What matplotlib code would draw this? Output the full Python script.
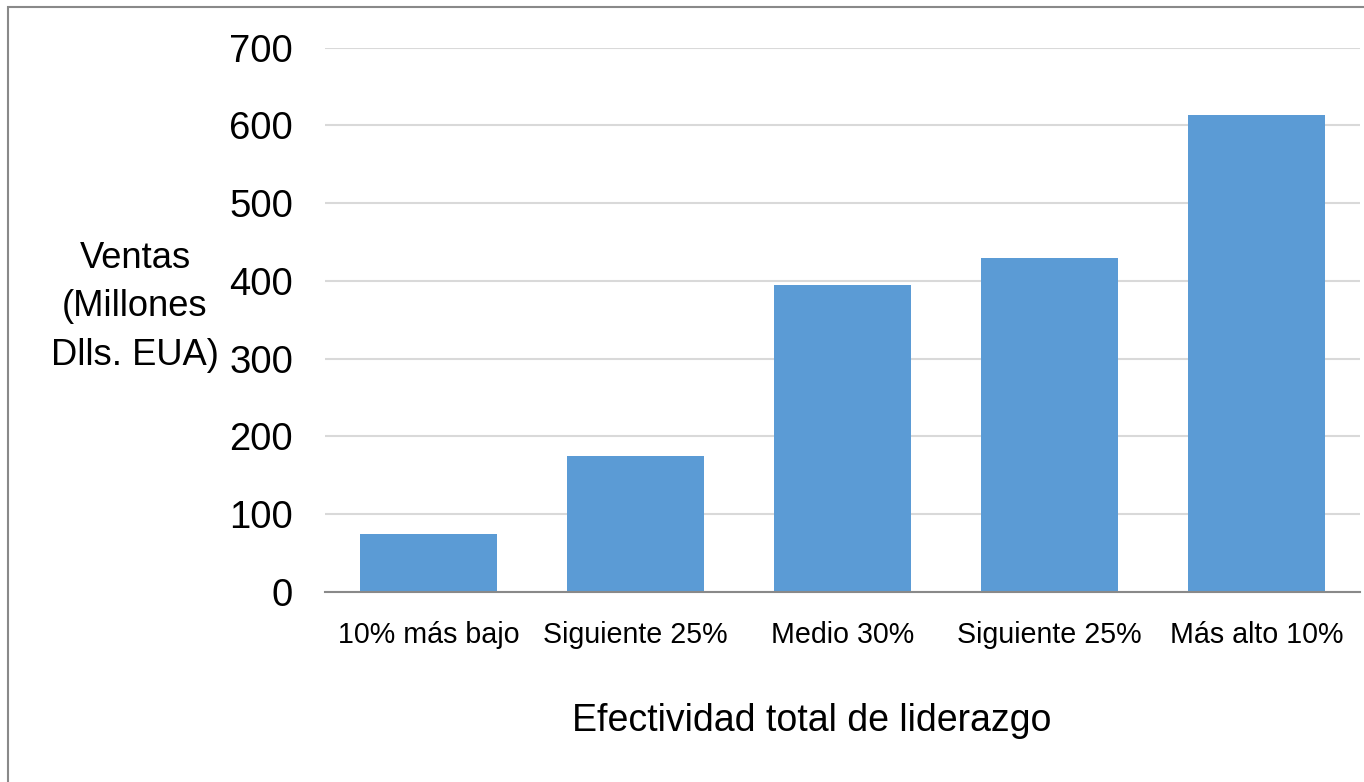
import matplotlib
matplotlib.use("Agg")
import matplotlib.pyplot as plt
from matplotlib.patches import Rectangle

categories = ["10% más bajo", "Siguiente 25%", "Medio 30%", "Siguiente 25%", "Más alto 10%"]
ventas = [75, 175, 395, 429, 614]
yticks = [0, 100, 200, 300, 400, 500, 600, 700]

plt.rcParams['font.family'] = ['Liberation Sans', 'DejaVu Sans']

W, H = 1364, 782
fig = plt.figure(figsize=(W / 100, H / 100), dpi=100)
ax = fig.add_axes([325 / W, 190 / H, (1360 - 325) / W, (592 - 47.7) / H])

x = list(range(len(categories)))
ax.bar(x, ventas, width=0.66, color='#5B9BD5', zorder=3)
ax.set_xlim(-0.5, len(categories) - 0.5)
ax.set_ylim(0, 700)
ax.set_yticks(yticks)
ax.set_yticklabels([str(v) for v in yticks], fontsize=27.5)
ax.set_xticks(x)
ax.set_xticklabels(categories, fontsize=20.6)
ax.tick_params(axis='y', length=0, pad=23)
ax.tick_params(axis='x', length=0, pad=21)
ax.yaxis.grid(True, color='#D9D9D9', linewidth=1.5, zorder=0)
ax.set_axisbelow(True)
for s in ['top', 'right', 'left']:
    ax.spines[s].set_visible(False)
ax.spines['bottom'].set_color('#898989')
ax.spines['bottom'].set_linewidth(1.5)
ax.spines['bottom'].set_zorder(4)

fig.text(135 / W, 1 - 306.5 / H, "Ventas\n(Millones\nDlls. EUA)", fontsize=26.2,
         ha='center', va='center', multialignment='center', linespacing=1.5)
fig.text(812 / W, 1 - 721 / H, "Efectividad total de liderazgo", fontsize=27,
         ha='center', va='center')

fig.patches.append(Rectangle((8 / W, -0.1), 1.2, 1.1 - 7 / H, transform=fig.transFigure,
                             fill=False, edgecolor='#898989', linewidth=1.5))

fig.savefig("out.png", dpi=100)
